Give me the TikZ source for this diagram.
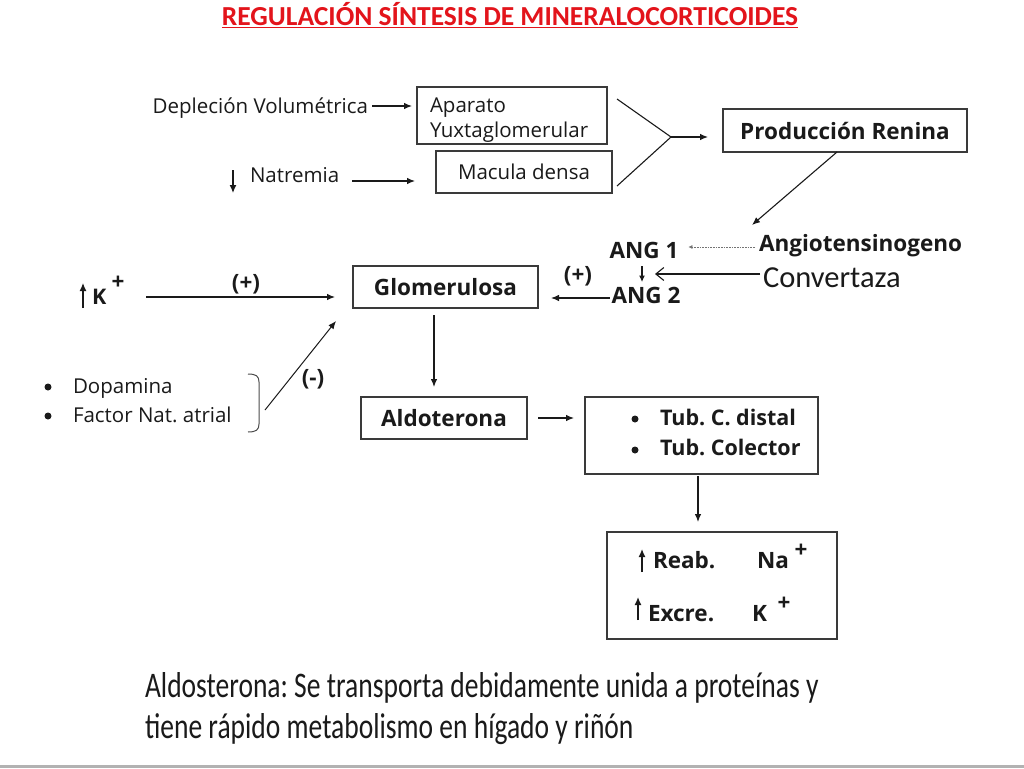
\documentclass[tikz,border=0pt]{standalone}
\usepackage{fontspec}
\usepackage{graphicx}
\setmainfont{Open Sans}
\newfontfamily\cfont{Carlito}
\usetikzlibrary{arrows.meta}
\definecolor{titlered}{HTML}{E3141B}
\definecolor{ink}{HTML}{1A1A1A}
\definecolor{boxline}{HTML}{3A3A3A}
\frenchspacing
\begin{document}
\begin{tikzpicture}[x=1pt,y=-1pt,
  every node/.style={inner sep=0pt, outer sep=0pt, text=ink},
  txt/.style={font=\fontsize{20.5}{25}\selectfont},
  btxt/.style={font=\fontsize{22.5}{26}\selectfont\bfseries},
  stxt/.style={font=\fontsize{21.5}{26}\selectfont\bfseries},
  bx/.style={draw=boxline, line width=1.2pt},
  con/.style={draw=ink, line width=1.1pt},
  arr/.style={con, -{Latex[length=8pt,width=6.5pt]}},
  upar/.style={draw=ink, line width=1.3pt, -{Latex[length=8pt,width=7pt]}},
  dot/.style={circle, fill=ink, minimum size=7pt},
  bottomtxt/.style={font=\cfont\fontsize{36}{40}\selectfont}
]
\useasboundingbox (0,0) rectangle (1024,768);
\fill[white] (0,0) rectangle (1024,768);
\fill[black!30] (0,765) rectangle (1024,768);

% title
\node[anchor=base, text=titlered, font=\cfont\fontsize{27.5}{30}\selectfont\bfseries] (title) at (510,26)
  {\underline{REGULACIÓN SÍNTESIS DE MINERALOCORTICOIDES}};

% top block
\node[txt, anchor=base east] (dep) at (368,113) {Depleción Volumétrica};
\node[bx, minimum width=190, minimum height=57] (ayg) at (512,115.5) {};
\node[txt, anchor=base west] (ayg1) at (430,112) {Aparato};
\node[txt, anchor=base west] (ayg2) at (430,137) {Yuxtaglomerular};
\node[txt, anchor=base west] (nat) at (250,182) {Natremia};
\coordinate (nd1) at (233,170);
\coordinate (nd2) at (233,193);
\draw[upar] (nd1) -- (nd2);
\node[bx, txt, minimum width=176, minimum height=42] (md) at (524,172) {Macula densa\hspace{20pt}};

\draw[arr, shorten <=4pt, shorten >=5pt] ([yshift=7pt]dep.base east) -- ([yshift=7pt]dep.base east -| ayg.west);
\draw[arr, shorten <=13pt, shorten >=21pt] ([yshift=1pt]nat.base east) -- ([yshift=1pt]nat.base east -| md.west);

\node[bx, btxt, minimum width=244, minimum height=43] (pr) at (845,130.5) {Producción Renina};
\coordinate (f1) at (617,99);
\coordinate (f2) at (617,186);
\coordinate (fj) at (671,137);
\draw[con] (f1) -- (fj) -- (f2);
\draw[arr, shorten >=15pt] (fj) -- (fj -| pr.west);

% renin-angiotensin
\node[btxt, anchor=base] (a1) at (644,258) {ANG 1};
\node[btxt, anchor=base] (a2) at (646,303) {ANG 2};
\node[btxt, anchor=base west] (ang) at (759,251) {Angiotensinogeno};
\node[anchor=base west, font=\cfont\fontsize{30.5}{33}\selectfont] (conv) at (763,287) {Convertaza};
\coordinate (rn) at (752,225);
\draw[arr] ([xshift=-8pt]pr.south) -- (rn);
\draw[draw=black!55, line width=0.6pt, densely dotted, -{Latex[length=4pt,width=4pt]}, shorten <=4pt, shorten >=10pt]
  ([yshift=4pt]ang.base west) -- ([yshift=4pt]ang.base west -| a1.east);
\draw[upar, line width=1.1pt, -{Latex[length=6.5pt,width=6pt]}] ([xshift=-2pt,yshift=-8pt]a1.base) -- ([xshift=-4pt,yshift=21pt]a2.base);
\coordinate (cv) at (655,274);
\draw[con, -{Straight Barb[length=8pt,width=13pt,line width=1.1pt]}, shorten <=3pt] ([yshift=13pt]conv.base west) -- ([yshift=13pt]conv.base west -| cv);

% glomerulosa row
\node[bx, btxt, minimum width=185, minimum height=42] (glom) at (445.5,287) {Glomerulosa\hspace{15pt}};
\draw[arr, shorten <=2pt, shorten >=13pt] ([yshift=5pt]a2.base west) -- ([yshift=5pt]a2.base west -| glom.east);
\node[btxt] (p2) at (578,276) {(+)};

\coordinate (ku1) at (83,308);
\coordinate (ku2) at (83,283);
\draw[upar] (ku1) -- (ku2);
\node[stxt, anchor=base west] (k) at (92,304) {K};
\node[btxt] (kp) at (118,283) {+};
\draw[arr, shorten <=40pt, shorten >=18pt] ([yshift=7pt]k.base east) -- ([yshift=7pt]k.base east -| glom.west);
\node[btxt] (p1) at (246,284) {(+)};

% inhibitors
\node[dot] (b1) at (48,387) {};
\node[dot] (b2) at (48,416) {};
\node[txt, anchor=base west] (dop) at (73,393) {Dopamina};
\node[txt, anchor=base west] (fna) at (73,422) {Factor Nat. atrial};
\draw[draw=black!70, line width=1pt] (248,374) .. controls (256,374) and (259,376) .. (259,382)
  -- (259,424) .. controls (259,430) and (256,432) .. (248,432);
\coordinate (br) at (265,410);
\coordinate (gi) at (336,321);
\draw[arr, line width=1pt] (br) -- (gi);
\node[btxt] (m1) at (313,379) {(-)};

% aldosterone
\node[bx, btxt, minimum width=166, minimum height=42] (aldo) at (444,418) {Aldoterona\hspace{12pt}};
\draw[arr, shorten <=7pt, shorten >=10pt] ([xshift=-11.5pt]glom.south) -- ([xshift=-10pt]aldo.north);
\node[bx, minimum width=233, minimum height=77] (tub) at (701.5,435.5) {};
\draw[arr, shorten <=11pt, shorten >=11pt] (aldo.east) -- (aldo.east -| tub.west);
\node[dot] (tb1) at (635,419) {};
\node[dot] (tb2) at (635,450) {};
\node[stxt, anchor=base west] (tt1) at (660,425) {Tub. C. distal};
\node[stxt, anchor=base west] (tt2) at (660,455) {Tub. Colector};

% result
\node[bx, minimum width=230, minimum height=107] (reab) at (722,585.5) {};
\draw[arr, shorten <=2pt, shorten >=10pt] ([xshift=-3.5pt]tub.south) -- ([xshift=-24pt]reab.north);
\coordinate (ru1) at (642,572);
\coordinate (ru2) at (642,549);
\draw[upar] (ru1) -- (ru2);
\node[btxt, anchor=base west] (re1) at (653,568) {Reab.};
\node[btxt, anchor=base west] (na) at (757,568) {Na};
\node[btxt] (nap) at (801,551) {+};
\coordinate (eu1) at (638,620);
\coordinate (eu2) at (638,597);
\draw[upar] (eu1) -- (eu2);
\node[btxt, anchor=base west] (ex1) at (648,621) {Excre.};
\node[btxt, anchor=base west] (kk) at (752,621) {K};
\node[btxt] (kkp) at (784,604) {+};

% bottom text
\node[bottomtxt, anchor=base west] (bt1) at (145,697)
  {\scalebox{0.765}[1]{Aldosterona: Se transporta debidamente unida a proteínas y}};
\node[bottomtxt, anchor=base west] (bt2) at (145,738)
  {\scalebox{0.765}[1]{tiene rápido metabolismo en hígado y riñón}};
\end{tikzpicture}
\end{document}
